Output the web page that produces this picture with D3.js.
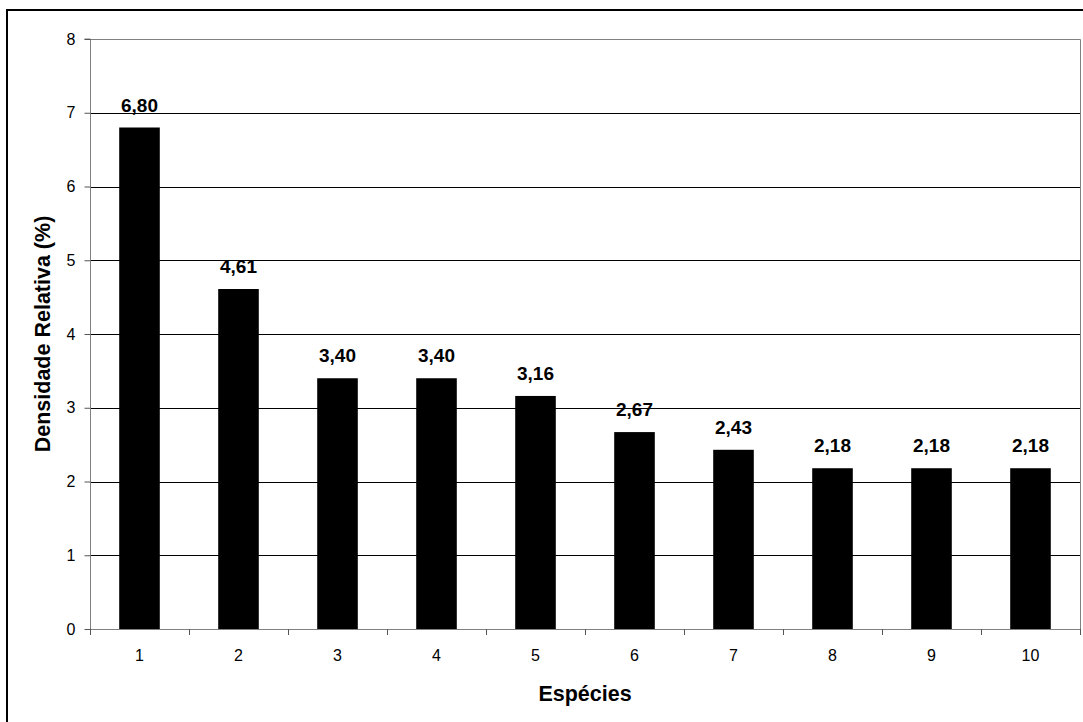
<!DOCTYPE html>
<html>
<head>
<meta charset="utf-8">
<script src="https://cdn.jsdelivr.net/npm/d3@7"></script>
<style>
  html, body { margin: 0; padding: 0; background: #fff; }
  svg { display: block; font-family: "Liberation Sans", Arial, sans-serif; }
</style>
</head>
<body>
<svg id="chart" width="1083" height="722"></svg>
<script>
// Relative density per species
const especies = ["1", "2", "3", "4", "5", "6", "7", "8", "9", "10"];
const densidade = [6.80, 4.61, 3.40, 3.40, 3.16, 2.67, 2.43, 2.18, 2.18, 2.18];
const yTicks = [0, 1, 2, 3, 4, 5, 6, 7, 8];

const svg = d3.select("#chart");
const plot = { left: 90, right: 1080, top: 39, bottom: 629 };

// Outer frame of the chart
svg.append("rect")
  .attr("x", 7).attr("y", 10)
  .attr("width", 1100).attr("height", 730)
  .attr("fill", "none").attr("stroke", "#000").attr("stroke-width", 2);

const x = d3.scaleBand()
  .domain(especies)
  .range([plot.left, plot.right])
  .paddingInner(0.59)
  .paddingOuter(0.295);

const y = d3.scaleLinear()
  .domain([0, 8])
  .range([plot.bottom, plot.top]);

// Horizontal gridlines
svg.append("g")
  .selectAll("line")
  .data(yTicks.filter(t => t > 0 && t < 8))
  .join("line")
  .attr("x1", plot.left).attr("x2", plot.right)
  .attr("y1", d => Math.round(y(d)) + 0.5).attr("y2", d => Math.round(y(d)) + 0.5)
  .attr("stroke", "#000").attr("stroke-width", 1);

// Bars
svg.append("g")
  .selectAll("rect")
  .data(especies)
  .join("rect")
  .attr("x", d => x(d))
  .attr("width", x.bandwidth())
  .attr("y", (d, i) => y(densidade[i]))
  .attr("height", (d, i) => y(0) - y(densidade[i]))
  .attr("fill", "#000");

// Plot area border (top and right)
svg.append("path")
  .attr("d", `M${plot.left},${plot.top + 0.5}H${plot.right + 0.5}V${plot.bottom}`)
  .attr("fill", "none").attr("stroke", "#808080").attr("stroke-width", 1);

// Y axis
const yAxis = svg.append("g")
  .attr("transform", `translate(${plot.left + 0.5},0)`)
  .call(d3.axisLeft(y).tickValues(yTicks).tickSize(6).tickPadding(9).tickFormat(d3.format("d")));
yAxis.select(".domain").attr("stroke", "#808080").attr("d", `M-6,${plot.top}H0V${plot.bottom + 5}`);
yAxis.selectAll(".tick line").attr("stroke", "#555");
yAxis.selectAll(".tick text")
  .attr("font-size", 16).attr("fill", "#000")
  .attr("font-family", "Liberation Sans, Arial, sans-serif");

// X axis baseline and category boundary ticks
const xAxis = svg.append("g");
xAxis.append("line")
  .attr("x1", plot.left).attr("x2", plot.right)
  .attr("y1", plot.bottom + 0.5).attr("y2", plot.bottom + 0.5)
  .attr("stroke", "#808080");
const bounds = [plot.left].concat(especies.map(d => x(d) + x.bandwidth() / 2 + x.step() / 2));
xAxis.selectAll("line.bt")
  .data(bounds)
  .join("line")
  .attr("class", "bt")
  .attr("x1", d => Math.round(d) + 0.5).attr("x2", d => Math.round(d) + 0.5)
  .attr("y1", plot.bottom).attr("y2", plot.bottom + 6)
  .attr("stroke", "#555");
xAxis.selectAll("text")
  .data(especies)
  .join("text")
  .attr("x", d => x(d) + x.bandwidth() / 2)
  .attr("y", 661)
  .attr("text-anchor", "middle")
  .attr("font-size", 16)
  .text(d => d);

// Value labels above bars
const fmt = v => v.toFixed(2).replace(".", ",");
svg.append("g")
  .selectAll("text")
  .data(especies)
  .join("text")
  .attr("x", d => x(d) + x.bandwidth() / 2)
  .attr("y", (d, i) => y(densidade[i]) - 16)
  .attr("text-anchor", "middle")
  .attr("font-size", 19)
  .attr("font-weight", "bold")
  .text((d, i) => fmt(densidade[i]));

// Axis titles
svg.append("text")
  .attr("x", (plot.left + plot.right) / 2)
  .attr("y", 701)
  .attr("text-anchor", "middle")
  .attr("font-size", 21.5)
  .attr("font-weight", "bold")
  .text("Espécies");

svg.append("text")
  .attr("transform", `translate(50,334) rotate(-90)`)
  .attr("text-anchor", "middle")
  .attr("font-size", 21.5)
  .attr("font-weight", "bold")
  .text("Densidade Relativa (%)");
</script>
</body>
</html>
